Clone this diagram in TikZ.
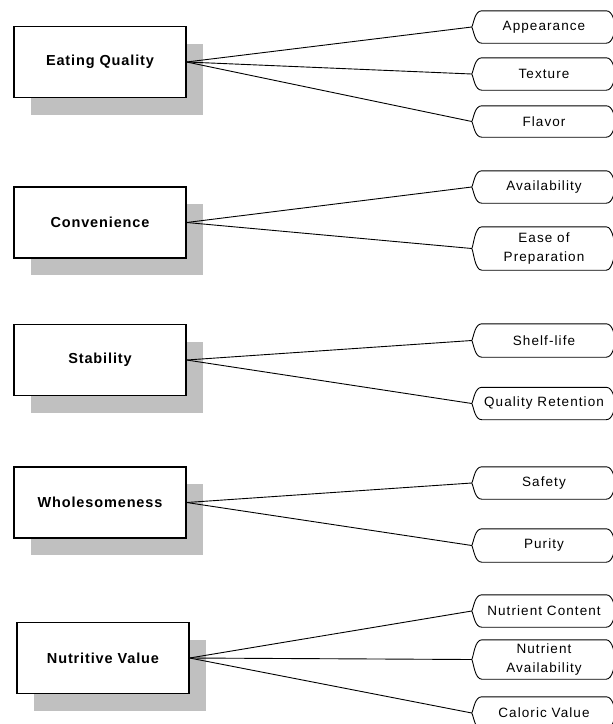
\documentclass[tikz,border=0pt]{standalone}
\usepackage{fontspec}
\setmainfont{Liberation Sans}
\newfontfamily\boxfont[LetterSpace=6]{Liberation Sans}
\newfontfamily\pillfont[LetterSpace=8]{Liberation Sans}
\usetikzlibrary{calc}
\definecolor{shadowgray}{HTML}{C0C0C0}
\newcommand\pillpath[1]{%
  \draw[outline] ($(#1.north west)+(10,0)$) -- ($(#1.north east)+(-10,0)$)
    .. controls ($(#1.north east)+(-3,0)$) and ($(#1.east)+(-2,-4)$) .. (#1.east)
    .. controls ($(#1.east)+(-2,4)$) and ($(#1.south east)+(-3,0)$) .. ($(#1.south east)+(-10,0)$)
    -- ($(#1.south west)+(10,0)$)
    .. controls ($(#1.south west)+(3,0)$) and ($(#1.west)+(2,4)$) .. (#1.west)
    .. controls ($(#1.west)+(2,-4)$) and ($(#1.north west)+(3,0)$) .. cycle;}
\begin{document}
\begin{tikzpicture}[x=1pt,y=-1pt,
  cat/.style={draw=black, line width=1.2pt, fill=white, minimum width=172pt, minimum height=71pt, inner sep=0pt,
    font=\boxfont\bfseries\fontsize{14.5}{17}\selectfont},
  shadowbox/.style={fill=shadowgray, draw=none, minimum width=172pt, minimum height=71pt, inner sep=0pt},
  pill/.style={minimum width=144pt, inner sep=0pt, align=center, font=\pillfont\fontsize{13.5}{18.5}\selectfont},
  link/.style={draw=black, line width=0.9pt},
  outline/.style={draw=black, line width=0.9pt}]
\useasboundingbox (0,0) rectangle (613,724);
\clip (0,0) rectangle (613,724);
% shadows
\node[shadowbox] (eqs) at (117,79.5) {};
\node[shadowbox] (cos) at (117,239.5) {};
\node[shadowbox] (sts) at (117,377) {};
\node[shadowbox] (whs) at (117,519.5) {};
\node[shadowbox] (nvs) at (120,675) {};
% category boxes
\node[cat] (eq) at (100,62) {Eating Quality};
\node[cat] (co) at (100,222.5) {Convenience};
\node[cat] (st) at (100,360) {Stability};
\node[cat] (wh) at (100,502.5) {Wholesomeness};
\node[cat] (nv) at (103,658) {Nutritive Value};
% attribute pills
\node[pill, minimum height=32pt] (app) at (544,27) {Appearance};
\node[pill, minimum height=32pt] (tex) at (544,74) {Texture};
\node[pill, minimum height=31pt] (fla) at (544,121.5) {Flavor};
\node[pill, minimum height=32pt] (ava) at (544,187) {Availability};
\node[pill, minimum height=43pt] (eas) at (544,248.5) {Ease of\\Preparation};
\node[pill, minimum height=33pt] (she) at (544,340.5) {Shelf-life};
\node[pill, minimum height=32pt] (qua) at (544,403.5) {Quality Retention};
\node[pill, minimum height=32pt] (saf) at (544,483) {Safety};
\node[pill, minimum height=33pt] (pur) at (544,545.5) {Purity};
\node[pill, minimum height=32pt] (nuc) at (544,611) {Nutrient Content};
\node[pill, minimum height=39pt] (nua) at (544,659.5) {Nutrient\\Availability};
\node[pill, minimum height=32pt] (cal) at (544,713) {Caloric Value};
\foreach \p in {app,tex,fla,ava,eas,she,qua,saf,pur,nuc,nua,cal} {\pillpath{\p}}
% connectors
\draw[link] (eq.east) -- (app.west);
\draw[link] (eq.east) -- (tex.west);
\draw[link] (eq.east) -- (fla.west);
\draw[link] (co.east) -- (ava.west);
\draw[link] (co.east) -- (eas.west);
\draw[link] (st.east) -- (she.west);
\draw[link] (st.east) -- (qua.west);
\draw[link] (wh.east) -- (saf.west);
\draw[link] (wh.east) -- (pur.west);
\draw[link] (nv.east) -- (nuc.west);
\draw[link] (nv.east) -- (nua.west);
\draw[link] (nv.east) -- (cal.west);
\end{tikzpicture}
\end{document}
